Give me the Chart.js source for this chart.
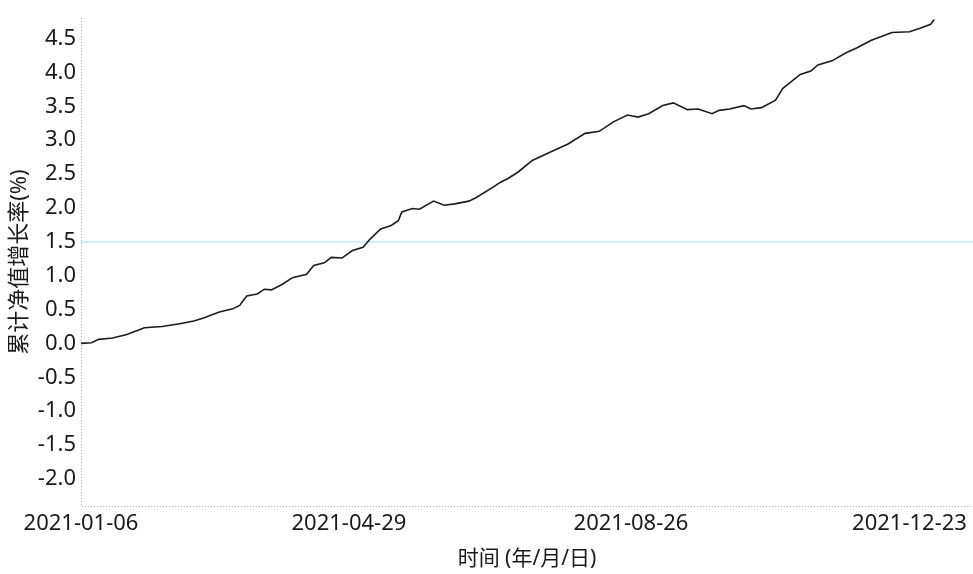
<!DOCTYPE html>
<html>
<head>
<meta charset="utf-8">
<script src="https://cdn.jsdelivr.net/npm/chart.js@4.4.1/dist/chart.umd.min.js"></script>
<style>
  html, body { margin: 0; padding: 0; background: #ffffff; }
  #wrap { width: 973px; height: 574px; position: relative; }
</style>
</head>
<body>
<div id="wrap"><canvas id="c" width="973" height="574"></canvas></div>
<script>
// Trading-day index (from 2021-01-06) and cumulative NAV growth (%)
const dayIndex = [0, 3, 5, 9, 13, 18, 23, 28, 32, 35, 39, 43, 45, 47, 50, 52, 54, 57, 60, 64,
  66, 69, 71, 74, 77, 80, 82, 85, 88, 90, 91, 94, 96, 99, 100, 103, 106, 110, 112, 117,
  119, 121, 124, 128, 133, 138, 143, 147, 151, 155, 158, 161, 165, 168, 172, 175, 179, 181, 184, 188,
  190, 193, 197, 199, 204, 207, 209, 213, 217, 220, 224, 230, 235, 238, 241, 242];
const growthPct = [0.00, 0.01, 0.06, 0.08, 0.13, 0.23, 0.25, 0.29, 0.33, 0.38, 0.46, 0.51, 0.56, 0.70, 0.73, 0.80, 0.79, 0.87, 0.97, 1.02,
  1.15, 1.19, 1.27, 1.26, 1.37, 1.42, 1.54, 1.69, 1.74, 1.81, 1.94, 1.99, 1.98, 2.07, 2.10, 2.04, 2.06, 2.10, 2.15, 2.31,
  2.38, 2.43, 2.53, 2.70, 2.82, 2.94, 3.10, 3.13, 3.27, 3.37, 3.34, 3.39, 3.51, 3.55, 3.45, 3.46, 3.39, 3.44, 3.46, 3.51,
  3.46, 3.48, 3.59, 3.76, 3.97, 4.02, 4.11, 4.17, 4.29, 4.36, 4.47, 4.59, 4.60, 4.65, 4.71, 4.78];

// X tick positions (trading-day index) and their date labels
const xTickIndex = [0, 76, 156, 235];
const xTickLabels = ['2021-01-06', '2021-04-29', '2021-08-26', '2021-12-23'];
// Y tick values
const yTicks = [-2.0, -1.5, -1.0, -0.5, 0.0, 0.5, 1.0, 1.5, 2.0, 2.5, 3.0, 3.5, 4.0, 4.5];

const yTitle = '累计净值增长率(%)';
const xTitle = '时间 (年/月/日)';

const FONT = '"Noto Sans", "Noto Sans CJK SC", "Open Sans", sans-serif';
const TXT = '#1a1a1a';

const points = dayIndex.map((d, i) => ({ x: d, y: growthPct[i] }));

// dotted axis lines along the left and bottom of the plot area
const dottedAxes = {
  id: 'dottedAxes',
  beforeDatasetsDraw(chart) {
    const { ctx, chartArea: a } = chart;
    ctx.save();
    ctx.strokeStyle = '#a0a0a0';
    ctx.lineWidth = 1;
    ctx.setLineDash([1, 2]);
    ctx.beginPath();
    ctx.moveTo(a.left + 0.5, a.top);
    ctx.lineTo(a.left + 0.5, a.bottom + 0.5);
    ctx.lineTo(a.right, a.bottom + 0.5);
    ctx.stroke();
    ctx.restore();
  }
};

new Chart(document.getElementById('c'), {
  type: 'line',
  data: {
    datasets: [{
      data: points,
      borderColor: '#1c1c1c',
      borderWidth: 1.6,
      pointRadius: 0,
      tension: 0,
      fill: false
    }]
  },
  options: {
    responsive: false,
    animation: false,
    devicePixelRatio: 1,
    layout: { padding: { top: 5, left: 0, right: 0, bottom: 0 } },
    plugins: {
      legend: { display: false },
      tooltip: { enabled: false }
    },
    scales: {
      x: {
        type: 'linear',
        min: 0,
        max: 253,
        afterBuildTicks: (s) => { s.ticks = xTickIndex.map(v => ({ value: v })); },
        afterFit: (s) => { s.height = 68; },
        ticks: {
          autoSkip: false,
          maxRotation: 0,
          minRotation: 0,
          padding: 5,
          color: TXT,
          font: { family: FONT, size: 22 },
          callback: (v, i) => xTickLabels[i]
        },
        grid: { display: true, drawTicks: false, color: 'rgba(0,0,0,0)' },
        border: { display: false },
        title: {
          display: true,
          text: xTitle,
          color: TXT,
          font: { family: FONT, size: 21 },
          padding: { top: 2, bottom: 2 }
        }
      },
      y: {
        type: 'linear',
        min: -2.4,
        max: 4.8,
        afterBuildTicks: (s) => { s.ticks = yTicks.map(v => ({ value: v })); },
        afterFit: (s) => { s.width = 81; },
        ticks: {
          padding: 5,
          color: TXT,
          font: { family: FONT, size: 22 },
          callback: (v) => Number(v).toFixed(1)
        },
        grid: {
          display: true,
          drawTicks: false,
          lineWidth: 2,
          color: (ctx) => (ctx.tick && Math.abs(ctx.tick.value - 1.5) < 1e-6) ? 'rgba(200,236,244,0.8)' : 'rgba(0,0,0,0)'
        },
        border: { display: false, dash: [] },
        title: {
          display: true,
          text: yTitle,
          color: TXT,
          font: { family: FONT, size: 22 },
          padding: { top: 7, bottom: 4 }
        }
      }
    }
  },
  plugins: [dottedAxes]
});
</script>
</body>
</html>
